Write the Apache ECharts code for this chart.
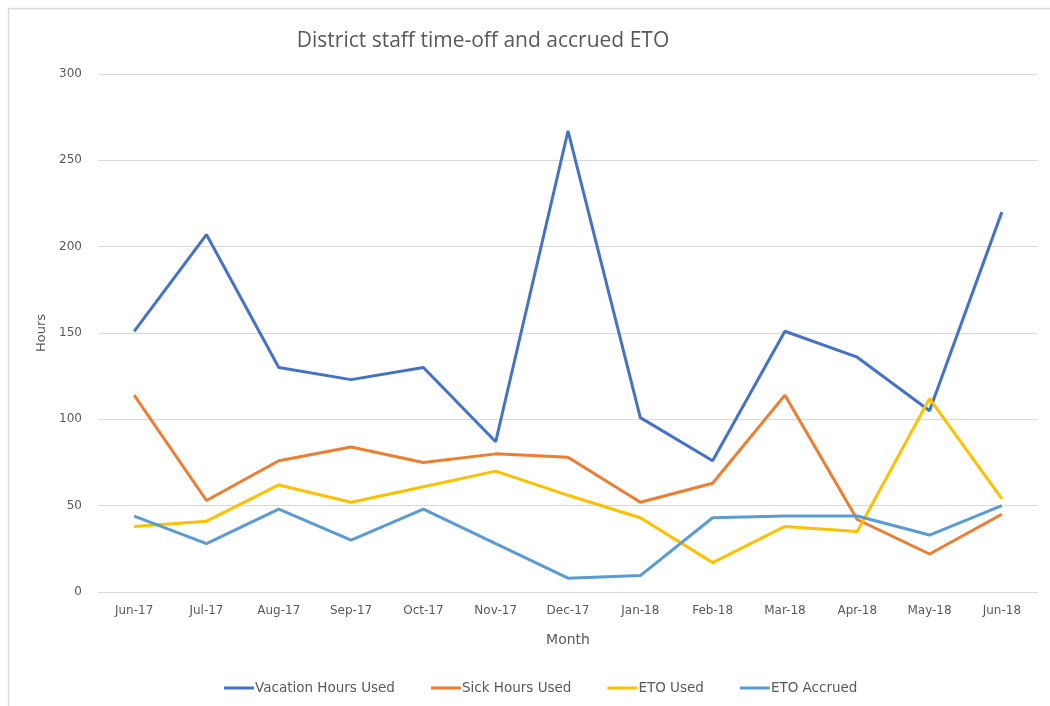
<!DOCTYPE html>
<html>
<head>
<meta charset="utf-8">
<script src="https://cdn.jsdelivr.net/npm/echarts@6/dist/echarts.min.js"></script>
<style>
    html, body { margin: 0; padding: 0; background: #fff; }
    #main { width: 1050px; height: 706px; }
</style>
</head>
<body>
<div id="main"></div>
<script>
var months = ['Jun-17', 'Jul-17', 'Aug-17', 'Sep-17', 'Oct-17', 'Nov-17', 'Dec-17',
    'Jan-18', 'Feb-18', 'Mar-18', 'Apr-18', 'May-18', 'Jun-18'];
var vacationUsed = [151, 207, 130, 123, 130, 87, 267, 101, 76, 151, 136, 105, 220];
var sickUsed = [114, 53, 76, 84, 75, 80, 78, 52, 63, 114, 42, 22, 45];
var etoUsed = [38, 41, 62, 52, 61, 70, 56, 43, 17, 38, 35, 112, 54];
var etoAccrued = [44, 28, 48, 30, 48, 28, 8, 9.5, 43, 44, 44, 33, 50];

var chart = echarts.init(document.getElementById('main'));

var labelFont = 'DejaVu Sans';
var textColor = '#595959';

function lineSeries(name, data, color) {
    return {
        name: name,
        type: 'line',
        data: data,
        symbol: 'none',
        lineStyle: { width: 3, color: color },
        itemStyle: { color: color }
    };
}

var option = {
    animation: false,
    backgroundColor: '#fff',
    title: {
        text: 'District staff time-off and accrued ETO',
        left: 478,
        top: 26,
        textAlign: 'center',
        textStyle: {
            fontFamily: 'Liberation Sans Narrow, Open Sans',
            fontSize: 21,
            fontWeight: 'normal',
            color: textColor
        }
    },
    graphic: [{
        type: 'rect',
        shape: { x: 8.5, y: 8.5, width: 1060, height: 720 },
        style: { fill: 'none', stroke: '#d9d9d9', lineWidth: 1.5 },
        silent: true
    }],
    legend: {
        bottom: 6,
        left: 219,
        itemWidth: 30,
        itemHeight: 3,
        itemGap: 36,
        icon: 'rect',
        textStyle: { fontFamily: labelFont, fontSize: 13.5, color: textColor, padding: [0, 0, 0, -4] },
        data: ['Vacation Hours Used', 'Sick Hours Used', 'ETO Used', 'ETO Accrued']
    },
    grid: {
        left: 98,
        right: 12,
        top: 74,
        bottom: 114
    },
    xAxis: {
        type: 'category',
        data: months,
        boundaryGap: true,
        name: 'Month',
        nameLocation: 'middle',
        nameGap: 41,
        nameTextStyle: { fontFamily: labelFont, fontSize: 14, color: textColor },
        axisLine: { lineStyle: { color: '#d9d9d9', width: 1 } },
        axisTick: { show: false },
        axisLabel: { fontFamily: labelFont, fontSize: 12, color: textColor, margin: 13 }
    },
    yAxis: {
        type: 'value',
        min: 0,
        max: 300,
        interval: 50,
        name: 'Hours',
        nameLocation: 'middle',
        nameGap: 47,
        nameTextStyle: { fontFamily: labelFont, fontSize: 13, color: textColor },
        axisLine: { show: false },
        axisTick: { show: false },
        axisLabel: { fontFamily: labelFont, fontSize: 12, color: textColor, margin: 16 },
        splitLine: { lineStyle: { color: '#d9d9d9', width: 1 } }
    },
    series: [
        lineSeries('Vacation Hours Used', vacationUsed, '#4472c4'),
        lineSeries('Sick Hours Used', sickUsed, '#ed7d31'),
        lineSeries('ETO Used', etoUsed, '#ffc000'),
        lineSeries('ETO Accrued', etoAccrued, '#5b9bd5')
    ]
};

chart.setOption(option);
</script>
</body>
</html>
